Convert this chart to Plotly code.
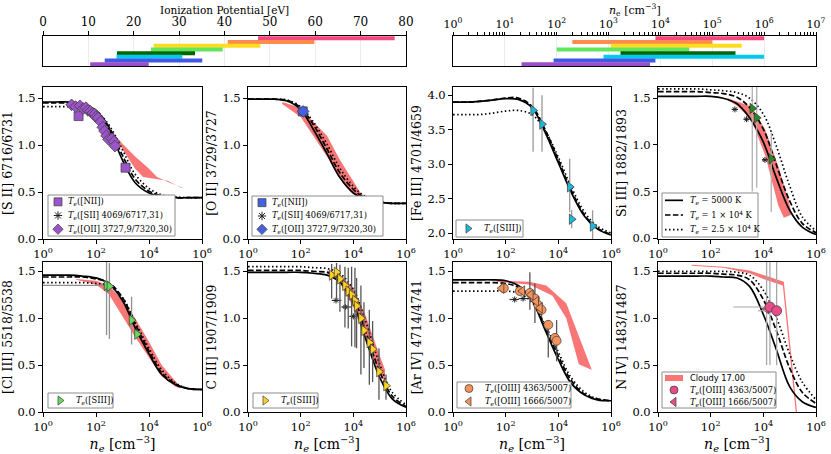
import plotly.graph_objects as go

W, H = 831, 454
SERIF = "DejaVu Serif"

# ---- top strips: ionization potential and density range per ion (top row first)
strip_ions = ["N IV", "Ar IV", "C III", "Cl III", "Si III", "Fe III", "O II", "S II"]
strip_colors = ["#f5487f", "#ff8b4d", "#ffdc1f", "#5fe65b", "#006400", "#00cbee", "#4157e6", "#9a50c8"]
ip_low = [47.4, 40.7, 24.4, 23.8, 16.3, 16.2, 13.6, 10.4]
ip_high = [77.5, 59.8, 47.9, 39.6, 33.5, 30.7, 35.1, 23.3]
ne_low = [8e3, 2e2, 1.1e3, 1e2, 1.7e3, 8e2, 87, 21]
ne_high = [1e6, 1e5, 3.7e5, 3.6e4, 2.8e5, 1e6, 8e3, 6.3e3]

# ---- theoretical curves, sampled on this density grid
ne_grid = [1, 3, 10, 30, 100, 300, 1e3, 3e3, 1e4, 3e4, 1e5, 3e5, 1e6]

# [S II] 6716/6731
s2_t5000 = [1.46, 1.46, 1.46, 1.44, 1.37, 1.18, 0.84, 0.60, 0.49, 0.45, 0.44, 0.44, 0.44]
s2_t10000 = [1.45, 1.45, 1.45, 1.43, 1.37, 1.20, 0.89, 0.64, 0.51, 0.46, 0.44, 0.44, 0.44]
s2_t25000 = [1.41, 1.41, 1.41, 1.40, 1.36, 1.22, 0.95, 0.69, 0.54, 0.47, 0.45, 0.44, 0.44]
s2_band_hi_x = [250, 600, 3000, 1e4, 2e4, 6e4, 1.8e5]
s2_band_hi_y = [1.24, 1.08, 0.88, 0.75, 0.66, 0.60, 0.55]
s2_band_lo_x = [250, 800, 3000, 6000, 2e4, 5e4, 1.8e5]
s2_band_lo_y = [1.18, 1.00, 0.75, 0.66, 0.64, 0.62, 0.54]
s2_oii_x = [12, 17, 25, 33, 42, 50, 62, 75, 90, 100, 120, 150, 180, 210, 250, 300, 400, 480, 520]
s2_oii_y = [1.43, 1.41, 1.42, 1.39, 1.40, 1.37, 1.36, 1.34, 1.33, 1.30, 1.29, 1.25, 1.19, 1.15, 1.10, 1.06, 1.07, 1.04, 0.99]
s2_nii_x = [22, 1300]
s2_nii_y = [1.31, 0.76]

# [O II] 3729/3727
o2_t5000 = [1.49, 1.49, 1.49, 1.47, 1.38, 1.17, 0.91, 0.66, 0.49, 0.42, 0.39, 0.38, 0.38]
o2_t10000 = [1.49, 1.49, 1.49, 1.48, 1.40, 1.22, 0.96, 0.71, 0.53, 0.43, 0.39, 0.38, 0.38]
o2_t25000 = [1.49, 1.49, 1.49, 1.48, 1.41, 1.25, 1.01, 0.76, 0.56, 0.45, 0.40, 0.38, 0.38]
o2_band_hi_x = [20, 100, 300, 1e3, 3e3, 1e4, 2e4, 1e5]
o2_band_hi_y = [1.46, 1.40, 1.25, 1.10, 0.85, 0.62, 0.48, 0.39]
o2_band_lo_x = [20, 100, 300, 1e3, 3e3, 1e4, 2e4, 1e5]
o2_band_lo_y = [1.44, 1.30, 1.10, 0.88, 0.65, 0.48, 0.43, 0.38]
o2_nii_x = [120]
o2_nii_y = [1.36]
o2_oii_x = [125]
o2_oii_y = [1.36]

# [Fe III] 4701/4659
fe3_t5000 = [3.90, 3.90, 3.91, 3.93, 3.95, 3.94, 3.82, 3.48, 3.02, 2.60, 2.24, 2.06, 1.97]
fe3_t10000 = [3.90, 3.90, 3.91, 3.93, 3.96, 3.96, 3.84, 3.52, 3.06, 2.63, 2.26, 2.07, 1.98]
fe3_t25000 = [3.72, 3.72, 3.72, 3.74, 3.77, 3.78, 3.72, 3.50, 3.10, 2.68, 2.30, 2.10, 2.00]
fe3_s3_x = [1100, 2400, 27000, 32000, 2e5]
fe3_s3_y = [3.78, 3.58, 2.67, 2.20, 2.10]
fe3_s3_up = [0.33, 0.42, 0.41, 0.13, 0.23]
fe3_s3_dn = [0.60, 0.40, 0.37, 0.13, 0.25]

# Si III] 1882/1893
si3_t5000 = [1.52, 1.52, 1.52, 1.52, 1.52, 1.50, 1.44, 1.29, 1.03, 0.66, 0.30, 0.12, 0.04]
si3_t10000 = [1.57, 1.57, 1.57, 1.57, 1.56, 1.55, 1.51, 1.40, 1.17, 0.80, 0.40, 0.16, 0.06]
si3_t25000 = [1.60, 1.60, 1.60, 1.60, 1.59, 1.58, 1.56, 1.50, 1.33, 1.00, 0.56, 0.23, 0.08]
si3_band_hi_x = [450, 3500, 1.2e4, 3.7e4, 9e4, 1.1e5]
si3_band_hi_y = [1.50, 1.41, 1.16, 0.77, 0.41, 0.30]
si3_band_lo_x = [450, 1000, 3500, 1.2e4, 3.7e4, 6e4, 1.1e5]
si3_band_lo_y = [1.48, 1.42, 1.27, 0.88, 0.35, 0.22, 0.25]
si3_s3_x = [3800, 5600, 20000]
si3_s3_y = [1.39, 1.29, 0.85]
si3_s3_up = [0.30, 0.35, 0.28]
si3_s3_dn = [0.89, 0.75, 0.57]
si3_sii_x = [830, 2300, 11500]
si3_sii_y = [1.38, 1.275, 0.84]
si3_sii_xup = [250, 600, 3000]
si3_sii_xdn = [200, 500, 2500]

# [Cl III] 5518/5538
cl3_t5000 = [1.46, 1.46, 1.46, 1.45, 1.43, 1.37, 1.19, 0.90, 0.62, 0.40, 0.29, 0.25, 0.24]
cl3_t10000 = [1.44, 1.44, 1.44, 1.44, 1.42, 1.38, 1.22, 0.94, 0.65, 0.42, 0.30, 0.25, 0.24]
cl3_t25000 = [1.38, 1.38, 1.38, 1.38, 1.37, 1.35, 1.22, 0.96, 0.68, 0.45, 0.31, 0.25, 0.24]
cl3_band_hi_x = [18, 100, 300, 1e3, 3e3, 1e4, 3e4, 1e5, 1.5e5]
cl3_band_hi_y = [1.42, 1.40, 1.35, 1.20, 1.00, 0.75, 0.50, 0.33, 0.27]
cl3_band_lo_x = [18, 100, 300, 1e3, 3e3, 1e4, 3e4, 1e5, 1.5e5]
cl3_band_lo_y = [1.41, 1.36, 1.26, 1.02, 0.80, 0.58, 0.38, 0.27, 0.25]
cl3_s3_x = [250, 320, 2200, 3500]
cl3_s3_y = [1.35, 1.34, 0.98, 0.83]
cl3_s3_up = [0.25, 0.25, 0.25, 0.05]
cl3_s3_dn = [0.53, 0.56, 0.26, 0.05]
cl3_s3_xup = [0, 0, 0, 0]
cl3_s3_xdn = [249.5, 0, 0, 0]

# C III] 1907/1909
c3_t5000 = [1.49, 1.49, 1.49, 1.49, 1.49, 1.48, 1.46, 1.39, 1.16, 0.77, 0.37, 0.14, 0.05]
c3_t10000 = [1.51, 1.51, 1.51, 1.51, 1.51, 1.50, 1.49, 1.43, 1.23, 0.85, 0.43, 0.17, 0.06]
c3_t25000 = [1.55, 1.55, 1.55, 1.55, 1.55, 1.54, 1.53, 1.48, 1.31, 0.96, 0.51, 0.21, 0.08]
c3_band_hi_x = [1000, 3000, 1e4, 3e4, 1e5, 1.6e5]
c3_band_hi_y = [1.51, 1.47, 1.32, 1.02, 0.60, 0.45]
c3_band_lo_x = [1000, 3000, 1e4, 3e4, 1e5, 1.6e5]
c3_band_lo_y = [1.48, 1.38, 1.12, 0.76, 0.40, 0.32]
c3_s3_x = [1500, 2300, 3100, 4800, 6400, 8600, 11500, 13300, 19400, 25300, 40500, 54000, 94000, 174000]
c3_s3_y = [1.46, 1.49, 1.42, 1.35, 1.29, 1.25, 1.19, 1.13, 1.00, 0.87, 0.74, 0.67, 0.43, 0.28]
c3_s3_up = [0.12, 0.10, 0.15, 0.20, 0.25, 0.30, 0.35, 0.30, 0.35, 0.30, 0.35, 0.30, 0.25, 0.12]
c3_s3_dn = [0.25, 0.30, 0.35, 0.45, 0.40, 0.55, 0.50, 0.45, 0.60, 0.40, 0.45, 0.35, 0.30, 0.15]
c3_sii_x = [2200, 5000, 10000]
c3_sii_y = [1.19, 1.12, 1.02]
c3_sii_xup = [1300, 3500, 4000]
c3_sii_xdn = [700, 1500, 3000]

# [Ar IV] 4714/4741
ar4_t5000 = [1.41, 1.41, 1.41, 1.41, 1.40, 1.35, 1.19, 0.89, 0.56, 0.31, 0.18, 0.13, 0.12]
ar4_t10000 = [1.38, 1.38, 1.38, 1.38, 1.37, 1.33, 1.20, 0.92, 0.60, 0.34, 0.19, 0.14, 0.12]
ar4_t25000 = [1.29, 1.29, 1.29, 1.29, 1.29, 1.27, 1.17, 0.94, 0.64, 0.37, 0.21, 0.14, 0.12]
ar4_band_hi_x = [45, 800, 3500, 2e4, 1.8e5]
ar4_band_hi_y = [1.40, 1.39, 1.35, 1.16, 0.46]
ar4_band_lo_x = [45, 800, 6000, 2e4, 6e4, 1.8e5]
ar4_band_lo_y = [1.39, 1.36, 1.24, 1.00, 0.51, 0.45]
ar4_o3a_x = [85, 345, 830, 1290, 1730, 2300, 4150, 7400, 8600]
ar4_o3a_y = [1.32, 1.29, 1.27, 1.21, 1.14, 1.09, 0.93, 0.79, 0.76]
ar4_o3a_up = [0.02, 0.03, 0.22, 0.16, 0.08, 0.08, 0.05, 0.05, 0.22]
ar4_o3a_dn = [0.02, 0.03, 0.18, 0.26, 0.08, 0.08, 0.35, 0.10, 0.22]
ar4_o3b_x = [70, 430, 900, 1450, 2000]
ar4_o3b_y = [1.32, 1.29, 1.25, 1.18, 1.11]
ar4_sii_x = [220, 460]
ar4_sii_y = [1.20, 1.21]
ar4_sii_xup = [100, 200]
ar4_sii_xdn = [80, 150]

# N IV] 1483/1487
n4_t5000 = [1.45, 1.45, 1.45, 1.45, 1.45, 1.44, 1.43, 1.34, 1.04, 0.68, 0.27, 0.11, 0.05]
n4_t10000 = [1.48, 1.48, 1.48, 1.48, 1.48, 1.47, 1.46, 1.41, 1.20, 0.88, 0.47, 0.21, 0.09]
n4_t25000 = [1.50, 1.50, 1.50, 1.50, 1.50, 1.50, 1.49, 1.46, 1.30, 1.02, 0.62, 0.32, 0.13]
n4_band_hi_x = [19, 300, 3000, 1e4, 6e4, 1.9e5]
n4_band_hi_y = [1.57, 1.55, 1.51, 1.46, 1.39, 0.0]
n4_band_lo_x = [19, 300, 3000, 1e4, 5.5e4, 1.7e5]
n4_band_lo_y = [1.56, 1.54, 1.48, 1.42, 1.35, 0.0]
n4_o3a_x = [17800, 32000]
n4_o3a_y = [1.12, 1.08]
n4_o3a_up = [0.50, 0.52]
n4_o3a_dn = [0.62, 0.58]
n4_o3a_xup = [14200, 18000]
n4_o3a_xdn = [17080, 25700]
n4_o3b_x = [13300]
n4_o3b_y = [1.10]
n4_o3b_up = [0.50]
n4_o3b_dn = [0.60]

# ---------------------------------------------------------------- styling
PURPLE, BLUE, CYAN, DGREEN = "#9b55c9", "#4760e0", "#1db9dc", "#228b22"
LGREEN, YELLOW, ORANGE, PINK = "#62dc5a", "#ffd21f", "#f5935b", "#ea4c88"
BAND = "rgba(246,88,88,0.82)"
TE = "<i>T<sub>e</sub></i>"

cols = [(43, 202), (248, 406), (453, 611), (658, 816)]
rows = [(87, 239), (262, 412)]


def dom_x(a, b):
    return [a / W, b / W]


def dom_y(top, bottom):
    return [1 - bottom / H, 1 - top / H]


def pts(x, y, symbol, color, up=None, dn=None, xup=None, xdn=None, ecol="#999999", size=9):
    return dict(x=x, y=y, symbol=symbol, color=color, up=up, dn=dn, xup=xup, xdn=xdn, ecol=ecol, size=size)


def small(x, y, xup, xdn):
    return pts(x, y, "asterisk-open", "#222222", xup=xup, xdn=xdn, ecol="#333333", size=5)


panels = [
    dict(title="[S II] 6716/6731", yr=[0, 1.62], yt=[0, 0.5, 1.0, 1.5],
         curves=(s2_t5000, s2_t10000, s2_t25000),
         band=(s2_band_hi_x, s2_band_hi_y, s2_band_lo_x, s2_band_lo_y),
         points=[pts(s2_nii_x, s2_nii_y, "square", PURPLE), pts(s2_oii_x, s2_oii_y, "diamond", PURPLE)]),
    dict(title="[O II] 3729/3727", yr=[0, 1.62], yt=[0, 0.5, 1.0, 1.5],
         curves=(o2_t5000, o2_t10000, o2_t25000),
         band=(o2_band_hi_x, o2_band_hi_y, o2_band_lo_x, o2_band_lo_y),
         points=[pts(o2_nii_x, o2_nii_y, "square", BLUE), pts(o2_oii_x, o2_oii_y, "diamond", BLUE)]),
    dict(title="[Fe III] 4701/4659", yr=[1.913, 4.12], yt=[2.0, 2.5, 3.0, 3.5, 4.0],
         curves=(fe3_t5000, fe3_t10000, fe3_t25000), band=None,
         points=[pts(fe3_s3_x, fe3_s3_y, "triangle-right", CYAN, fe3_s3_up, fe3_s3_dn)]),
    dict(title="Si III] 1882/1893", yr=[-0.008, 1.62], yt=[0, 0.5, 1.0, 1.5],
         curves=(si3_t5000, si3_t10000, si3_t25000),
         band=(si3_band_hi_x, si3_band_hi_y, si3_band_lo_x, si3_band_lo_y),
         points=[small(si3_sii_x, si3_sii_y, si3_sii_xup, si3_sii_xdn),
                 pts(si3_s3_x, si3_s3_y, "triangle-right", DGREEN, si3_s3_up, si3_s3_dn, ecol="#b0b0b0")]),
    dict(title="[Cl III] 5518/5538", yr=[0, 1.6], yt=[0, 0.5, 1.0, 1.5],
         curves=(cl3_t5000, cl3_t10000, cl3_t25000),
         band=(cl3_band_hi_x, cl3_band_hi_y, cl3_band_lo_x, cl3_band_lo_y),
         points=[pts(cl3_s3_x, cl3_s3_y, "triangle-right", LGREEN, cl3_s3_up, cl3_s3_dn,
                     cl3_s3_xup, cl3_s3_xdn, ecol="#909090")]),
    dict(title="C III] 1907/1909", yr=[0, 1.6], yt=[0, 0.5, 1.0, 1.5],
         curves=(c3_t5000, c3_t10000, c3_t25000),
         band=(c3_band_hi_x, c3_band_hi_y, c3_band_lo_x, c3_band_lo_y),
         points=[small(c3_sii_x, c3_sii_y, c3_sii_xup, c3_sii_xdn),
                 pts(c3_s3_x, c3_s3_y, "triangle-right", YELLOW, c3_s3_up, c3_s3_dn, ecol="#555555")]),
    dict(title="[Ar IV] 4714/4741", yr=[0, 1.6], yt=[0, 0.5, 1.0, 1.5],
         curves=(ar4_t5000, ar4_t10000, ar4_t25000),
         band=(ar4_band_hi_x, ar4_band_hi_y, ar4_band_lo_x, ar4_band_lo_y),
         points=[small(ar4_sii_x, ar4_sii_y, ar4_sii_xup, ar4_sii_xdn),
                 pts(ar4_o3a_x, ar4_o3a_y, "circle", ORANGE, ar4_o3a_up, ar4_o3a_dn, ecol="#555555"),
                 pts(ar4_o3b_x, ar4_o3b_y, "triangle-left", ORANGE)]),
    dict(title="N IV] 1483/1487", yr=[0, 1.6], yt=[0, 0.5, 1.0, 1.5],
         curves=(n4_t5000, n4_t10000, n4_t25000),
         band=(n4_band_hi_x, n4_band_hi_y, n4_band_lo_x, n4_band_lo_y),
         points=[pts(n4_o3b_x, n4_o3b_y, "triangle-left", PINK, n4_o3b_up, n4_o3b_dn, ecol="#a8a8a8"),
                 pts(n4_o3a_x, n4_o3a_y, "circle", PINK, n4_o3a_up, n4_o3a_dn,
                     n4_o3a_xup, n4_o3a_xdn, ecol="#a8a8a8", size=10)]),
]

# legend boxes (left, top, width, height in px) and entries
leg_boxes = [(48, 195, 127, 41), (252, 196, 131, 40), (456, 220, 67, 17), (662, 193, 96, 44),
             (48, 393, 65, 15), (253, 393, 65, 15), (457, 382, 114, 26), (662, 372, 114, 36)]
ast = dict(kind="marker", symbol="asterisk-open", color="#222222", size=7)
leg_entries = [
    [(dict(kind="marker", symbol="square", color=PURPLE), TE + "([NII])"),
     (ast, TE + "([SII] 4069/6717,31)"),
     (dict(kind="marker", symbol="diamond", color=PURPLE), TE + "([OII] 3727,9/7320,30)")],
    [(dict(kind="marker", symbol="square", color=BLUE), TE + "([NII])"),
     (ast, TE + "([SII] 4069/6717,31)"),
     (dict(kind="marker", symbol="diamond", color=BLUE), TE + "([OII] 3727,9/7320,30)")],
    [(dict(kind="marker", symbol="triangle-right", color=CYAN), TE + "([SIII])")],
    [(dict(kind="line", dash="solid"), TE + " = 5000 K"),
     (dict(kind="line", dash="5.5px,2.4px"), TE + " = 1 × 10<sup>4</sup> K"),
     (dict(kind="line", dash="1.5px,2.5px"), TE + " = 2.5 × 10<sup>4</sup> K")],
    [(dict(kind="marker", symbol="triangle-right", color=LGREEN), TE + "([SIII])")],
    [(dict(kind="marker", symbol="triangle-right", color=YELLOW), TE + "([SIII])")],
    [(dict(kind="marker", symbol="circle", color=ORANGE), TE + "([OIII] 4363/5007)"),
     (dict(kind="marker", symbol="triangle-left", color=ORANGE), TE + "([OIII] 1666/5007)")],
    [(dict(kind="band"), "Cloudy 17.00"),
     (dict(kind="marker", symbol="circle", color=PINK), TE + "([OIII] 4363/5007)"),
     (dict(kind="marker", symbol="triangle-left", color=PINK), TE + "([OIII] 1666/5007)")],
]

fig = go.Figure()
layout = dict(width=W, height=H, margin=dict(l=0, r=0, t=0, b=0, autoexpand=False),
              paper_bgcolor="white", plot_bgcolor="rgba(0,0,0,0)", showlegend=False,
              font=dict(family=SERIF, color="black", size=10))

base_axis = dict(showline=True, linecolor="black", linewidth=1, mirror=True, automargin=False,
                 ticks="outside", ticklen=4, tickwidth=1, tickcolor="black",
                 showgrid=False, zeroline=False, tickfont=dict(size=11.5))

# ---- strips (titles are placed as annotations below)
layout["xaxis"] = dict(base_axis, domain=dom_x(43, 406), range=[0, 80], side="top", anchor="y",
                       tickvals=list(range(0, 81, 10)), tickfont=dict(size=12),
                       showgrid=True, gridcolor="#ececec")
layout["yaxis"] = dict(base_axis, domain=dom_y(36, 66), range=[-0.45, 7.6], anchor="x",
                       ticks="", showticklabels=False)
layout["xaxis2"] = dict(base_axis, type="log", domain=dom_x(453, 816), range=[0, 7], side="top",
                        anchor="y2", tickvals=[10 ** k for k in range(8)],
                        ticktext=[f"10<sup>{k}</sup>" for k in range(8)], tickfont=dict(size=11),
                        ticklen=3, showgrid=True, gridcolor="#ececec",
                        minor=dict(tickvals=[m * 10 ** k for k in range(7) for m in range(2, 10)],
                                   ticks="outside", ticklen=3, tickcolor="black", showgrid=False))
layout["yaxis2"] = dict(base_axis, domain=dom_y(36, 66), range=[-0.45, 7.6], anchor="x2",
                        ticks="", showticklabels=False)

annotations = [
    dict(x=224.5 / W, y=1 - 10 / H, xref="paper", yref="paper", text="Ionization Potential [eV]",
         showarrow=False, xanchor="center", yanchor="middle", font=dict(size=10.5)),
    dict(x=634.5 / W, y=1.0, xref="paper", yref="paper",
         text="<i>n</i><sub>e</sub> [cm<sup>−3</sup>]",
         showarrow=False, xanchor="center", yanchor="top", font=dict(size=11)),
]

for i, c in enumerate(strip_colors):
    row = 7 - i
    fig.add_trace(go.Scatter(x=[ip_low[i], ip_high[i]], y=[row, row], mode="lines", name=strip_ions[i],
                             line=dict(color=c, width=4), xaxis="x", yaxis="y", hoverinfo="skip"))
    fig.add_trace(go.Scatter(x=[ne_low[i], ne_high[i]], y=[row, row], mode="lines", name=strip_ions[i],
                             line=dict(color=c, width=4), xaxis="x2", yaxis="y2", hoverinfo="skip"))

# ---- density panels
dashes = ["solid", "5.5px,2.4px", "1.5px,2.5px"]
for k, p in enumerate(panels):
    n = k + 3
    c0, c1 = cols[k % 4]
    r0, r1 = rows[k // 4]
    xa = dict(base_axis, type="log", range=[0, 6], domain=dom_x(c0, c1), anchor=f"y{n}",
              tickvals=[1, 1e2, 1e4, 1e6], ticktext=[f"10<sup>{e}</sup>" for e in (0, 2, 4, 6)])
    if k >= 4:
        xa["title"] = dict(text="<i>n<sub>e</sub></i> [cm<sup>−3</sup>]", font=dict(size=14), standoff=3)
    layout[f"xaxis{n}"] = xa
    layout[f"yaxis{n}"] = dict(base_axis, range=p["yr"], domain=dom_y(r0, r1), anchor=f"x{n}",
                               tickvals=p["yt"], ticktext=[f"{v:.1f}" for v in p["yt"]],
                               title=dict(text=p["title"], font=dict(size=12.5), standoff=3))
    ax = dict(xaxis=f"x{n}", yaxis=f"y{n}")

    if p["band"]:
        hx, hy, lx, ly = p["band"]
        fig.add_trace(go.Scatter(x=hx + lx[::-1], y=hy + ly[::-1], fill="toself", fillcolor=BAND,
                                 mode="lines", line=dict(width=0, color=BAND), hoverinfo="skip", **ax))
    for curve, d in zip(p["curves"], dashes):
        fig.add_trace(go.Scatter(x=ne_grid, y=curve, mode="lines", line_shape="spline",
                                 line=dict(color="black", width=1.7, dash=d), hoverinfo="skip", **ax))
    for s in p["points"]:
        kw = {}
        if s["up"] is not None:
            kw["error_y"] = dict(type="data", symmetric=False, array=s["up"], arrayminus=s["dn"],
                                 color=s["ecol"], thickness=1.3, width=0)
        if s["xup"] is not None:
            kw["error_x"] = dict(type="data", symmetric=False, array=s["xup"], arrayminus=s["xdn"],
                                 color=s["ecol"], thickness=1.2, width=0)
        open_sym = s["symbol"].endswith("open")
        fig.add_trace(go.Scatter(
            x=s["x"], y=s["y"], mode="markers",
            marker=dict(symbol=s["symbol"], color=s["color"], size=s["size"],
                        line=dict(color=s["color"] if open_sym else "#3a3a3a", width=1 if open_sym else 0.7)),
            hoverinfo="skip", **kw, **ax))

# ---- hand-made legends on an overlay axis in pixel units
layout["xaxis11"] = dict(domain=[0, 1], range=[0, W], visible=False, fixedrange=True, anchor="y11")
layout["yaxis11"] = dict(domain=[0, 1], range=[H, 0], visible=False, fixedrange=True, anchor="x11")
ov = dict(xaxis="x11", yaxis="y11", hoverinfo="skip")
for k, (box, entries) in enumerate(zip(leg_boxes, leg_entries)):
    x0, y0, w, h = box
    fig.add_trace(go.Scatter(x=[x0, x0 + w, x0 + w, x0, x0], y=[y0, y0, y0 + h, y0 + h, y0],
                             fill="toself", fillcolor="white", mode="lines",
                             line=dict(color="#8c8c8c", width=1), **ov))
    step = h / len(entries)
    wide = any(e[0]["kind"] in ("line", "band") for e in entries) or k >= 2
    sym_dx, txt_dx = (12, 26) if wide else (10, 18)
    for i, (e, label) in enumerate(entries):
        yc = y0 + step * (i + 0.5)
        if e["kind"] == "marker":
            open_sym = e["symbol"].endswith("open")
            fig.add_trace(go.Scatter(x=[x0 + sym_dx], y=[yc], mode="markers",
                                     marker=dict(symbol=e["symbol"], color=e["color"], size=e.get("size", 8),
                                                 line=dict(color=e["color"] if open_sym else "#3a3a3a",
                                                           width=1 if open_sym else 0.7)), **ov))
        elif e["kind"] == "line":
            fig.add_trace(go.Scatter(x=[x0 + 3, x0 + 21], y=[yc, yc], mode="lines",
                                     line=dict(color="black", width=1.7, dash=e["dash"]), **ov))
        else:
            fig.add_trace(go.Scatter(x=[x0 + 3, x0 + 21, x0 + 21, x0 + 3, x0 + 3],
                                     y=[yc - 3, yc - 3, yc + 3, yc + 3, yc - 3], fill="toself",
                                     fillcolor=BAND, mode="lines", line=dict(width=0, color=BAND), **ov))
        annotations.append(dict(x=(x0 + txt_dx) / W, y=1 - yc / H, xref="paper", yref="paper",
                                text=label, showarrow=False, xanchor="left", yanchor="middle",
                                font=dict(size=8.3, family="DejaVu Sans" if label.startswith("Cloudy") else SERIF)))

layout["annotations"] = annotations
fig.update_layout(**layout)
fig.write_html("out.html", config={"displayModeBar": False},
               post_script="document.body.style.margin = '0';")
